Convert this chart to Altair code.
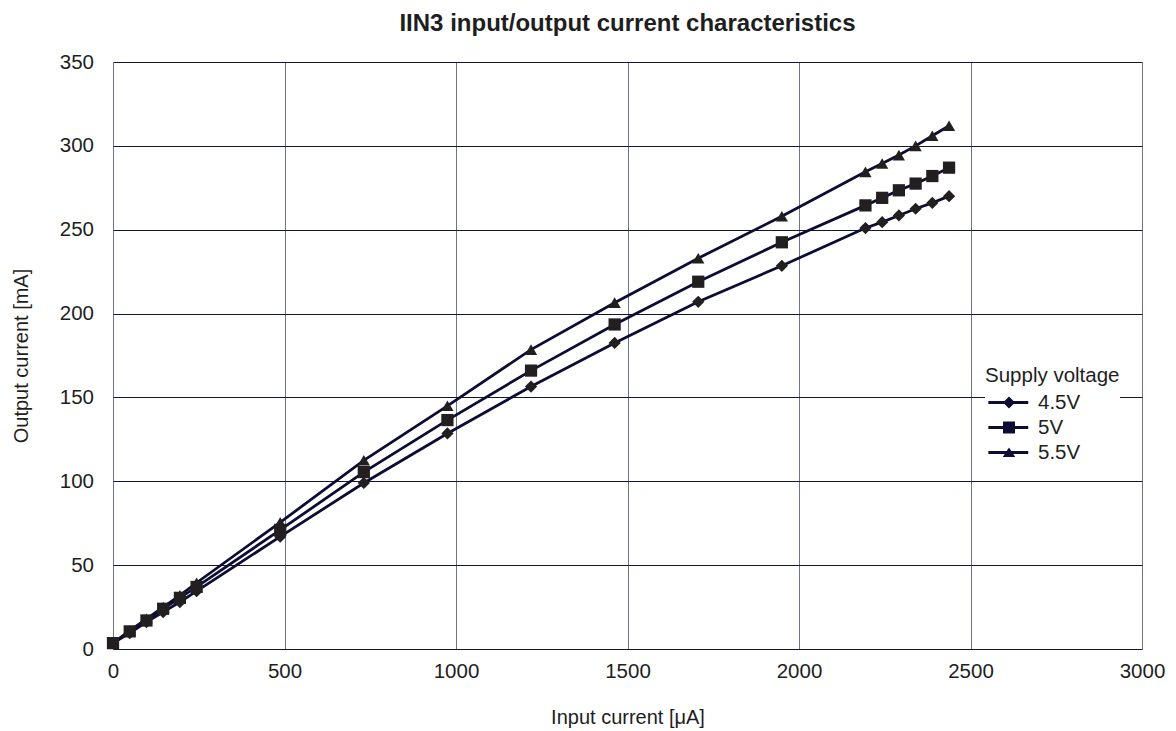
import altair as alt
import pandas as pd

# ---- data ----
input_current = [0, 48.75, 97.5, 146.25, 195, 243.75, 487.5, 731.25, 975, 1218.75,
                 1462.5, 1706.25, 1950, 2193.75, 2242.5, 2291.25, 2340, 2388.75, 2437.5]
out_45 = [3.5, 9.5, 16, 22, 28, 34.5, 67, 99, 128.5, 156.5,
          182.5, 207, 228.5, 251, 254.5, 258.5, 262.5, 266, 270]
out_5 = [3.5, 10.5, 17, 24, 30.5, 37, 71, 105.5, 136.5, 166,
         193.5, 219, 242.5, 264.5, 269, 273.5, 277.5, 282, 287]
out_55 = [3.5, 11, 18, 25, 32, 39.5, 75.5, 112.5, 145, 178.5,
          206.5, 233, 258, 284.5, 289.5, 294.5, 300, 306, 312]
series_names = ["4.5V", "5V", "5.5V"]
x_ticks = [0, 500, 1000, 1500, 2000, 2500, 3000]
y_ticks = [0, 50, 100, 150, 200, 250, 300, 350]

rows = []
for name, vals in zip(series_names, [out_45, out_5, out_55]):
    for xi, yi in zip(input_current, vals):
        rows.append({"series": name, "x": xi, "y": yi})
df = pd.DataFrame(rows)

FONT = "Liberation Sans"
LINE = "#0d0d33"
MARK = "#231f20"
TXT = "#1e1e1e"

xenc = alt.X("x:Q", scale=alt.Scale(domain=[0, 3000], nice=False),
             axis=alt.Axis(values=x_ticks, title="Input current [\u03bcA]", format="d",
                           gridColor="#6f7290", gridWidth=1, ticks=False, domain=False,
                           labelFlush=False, labelPadding=12, labelFontSize=20.5,
                           titleFontSize=20, titleFontWeight="normal", titleY=74.5,
                           titleBaseline="alphabetic", labelColor=TXT, titleColor=TXT))
yenc = alt.Y("y:Q", scale=alt.Scale(domain=[0, 350], nice=False),
             axis=alt.Axis(values=y_ticks, title="Output current [mA]", format="d",
                           gridColor="#141438", gridWidth=1, ticks=False, domain=False,
                           labelFlush=False, labelPadding=19.5, labelFontSize=20.5,
                           titleFontSize=20, titleFontWeight="normal", titleX=-92,
                           titleY=293.5, titleBaseline="middle",
                           labelColor=TXT, titleColor=TXT))

base = alt.Chart(df)

lines = base.mark_line(color=LINE, strokeWidth=2.8).encode(
    x=xenc, y=yenc, detail="series:N", order="x:Q")

points = base.mark_point(filled=True, opacity=1, color=MARK, size=150).encode(
    x=xenc, y=yenc,
    shape=alt.Shape("series:N",
                    scale=alt.Scale(domain=series_names,
                                    range=["diamond", "square", "triangle-up"]),
                    legend=None))

# legend symbols: a short line with the marker on it
leg_line = "M-0.72,-0.12H2.6V0.12H-0.72Z"
leg_paths = [
    leg_line + "M1,-0.5L1.5,0L1,0.5L0.5,0Z",
    leg_line + "M0.5,-0.5H1.5V0.5H0.5Z",
    leg_line + "M1,-0.42L1.52,0.38H0.48Z",
]
legend_layer = base.mark_point(filled=True, color=LINE, opacity=1).encode(
    x=xenc, y=yenc,
    shape=alt.Shape("series:N",
                    scale=alt.Scale(domain=series_names, range=leg_paths),
                    legend=alt.Legend(title="Supply voltage", orient="none",
                                      legendX=872, legendY=304, padding=0,
                                      fillColor="white",
                                      titleFontSize=20.5, titleFontWeight="normal",
                                      titleFont=FONT, labelFont=FONT, labelFontSize=20.5,
                                      titleColor=TXT, labelColor=TXT,
                                      symbolSize=576, symbolStrokeWidth=0,
                                      symbolFillColor=LINE, symbolOpacity=1,
                                      rowPadding=2, labelOffset=29, titlePadding=4))
).transform_filter("datum.x < -1")

chart = alt.layer(lines, points, legend_layer).resolve_scale(shape="independent").properties(
    width=1029, height=587,
    autosize=alt.AutoSizeParams(type="none"),
    padding={"left": 105, "top": 54, "right": 26, "bottom": 82},
    title=alt.Title("IIN3 input/output current characteristics", fontSize=24,
                    font=FONT, fontWeight="bold", color=TXT, anchor="middle", offset=16),
).configure_view(stroke="#0a0a30", strokeWidth=2.5).configure(
    font=FONT
).configure_axis(labelFont=FONT, titleFont=FONT)

chart.save("out.html", embed_options={"renderer": "svg", "actions": False})
